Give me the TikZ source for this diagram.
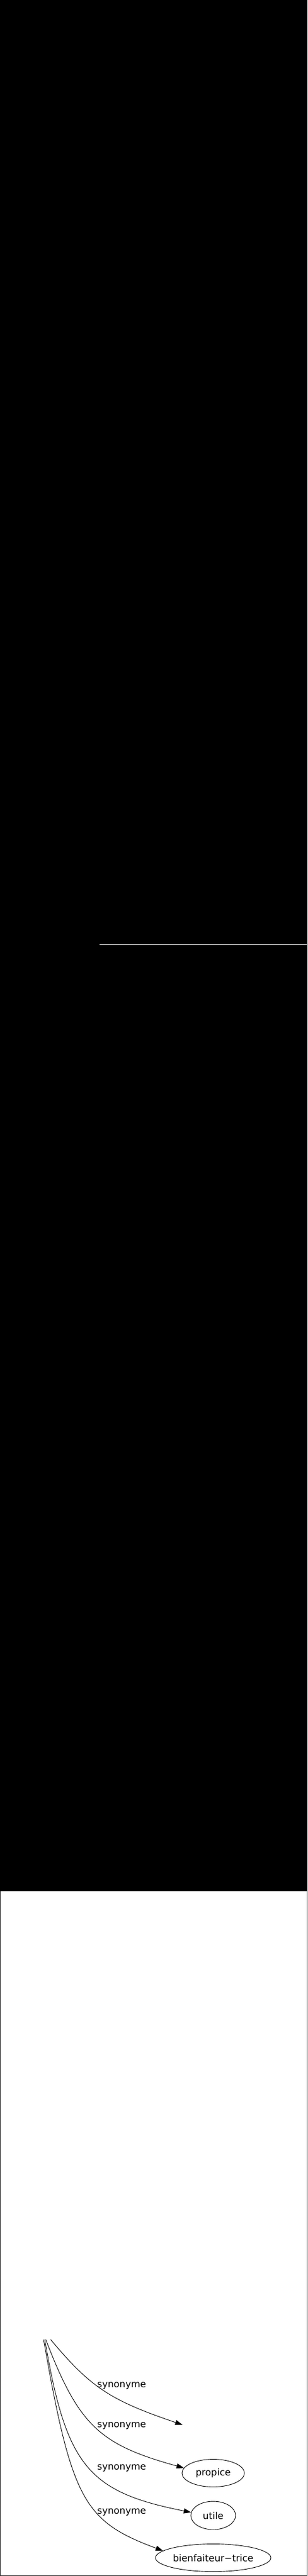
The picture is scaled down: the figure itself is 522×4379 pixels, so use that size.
\documentclass[tikz,border=0pt]{standalone}
\usepackage{fontspec}
\setmainfont{DejaVu Sans}
\usetikzlibrary{arrows.meta,shapes.geometric}
\begin{document}
\begin{tikzpicture}[x=1pt,y=-1pt,
  lbl/.style={anchor=base west,inner sep=0pt,font=\fontsize{16}{19}\selectfont},
  word/.style={draw,ellipse,inner sep=0pt,line width=0.9pt,font=\fontsize{16}{19}\selectfont},
  syn/.style={draw,line width=0.9pt,-{Triangle[length=12.5pt,width=8.5pt]}}]
\useasboundingbox (0,0) rectangle (522,4379);
\fill[black] (0,0) rectangle (522,3215);
\draw[white,line width=1pt] (169,1605.7) -- (521,1605.7);
\draw[black!85,line width=1.2pt] (0.6,3215) -- (0.6,4378.2) -- (521.4,4378.2) -- (521.4,3215);
% nodes
\coordinate (s1) at (86,3977);
\coordinate (s2) at (77.7,3977);
\coordinate (s3) at (76,3977);
\coordinate (s4) at (74,3977);
\coordinate (blank) at (310,4122);
\node[word,minimum width=106pt,minimum height=47pt] (propice) at (362,4204) {propice};
\node[word,minimum width=76pt,minimum height=48pt] (utile) at (362,4276) {utile};
\node[word,minimum width=196pt,minimum height=47pt] (bienf) at (362,4348) {bienfaiteur−trice};
% labels
\node[lbl] (l1) at (165,4058) {synonyme};
\node[lbl] (l2) at (165,4126.7) {synonyme};
\node[lbl] (l3) at (165,4198) {synonyme};
\node[lbl] (l4) at (165,4273) {synonyme};
% edges
\draw[syn] (s1) .. controls (154,4058.6) and (187.6,4080.4) .. (blank);
\draw[syn] (s2) .. controls (133.8,4122.9) and (168.5,4155.6) .. (propice.170);
\draw[syn] (s3) .. controls (112.5,4192) and (149.5,4236.1) .. (utile.172);
\draw[syn] (s4) .. controls (122,4250.2) and (142.3,4286.1) .. (bienf.172);
\end{tikzpicture}
\end{document}
